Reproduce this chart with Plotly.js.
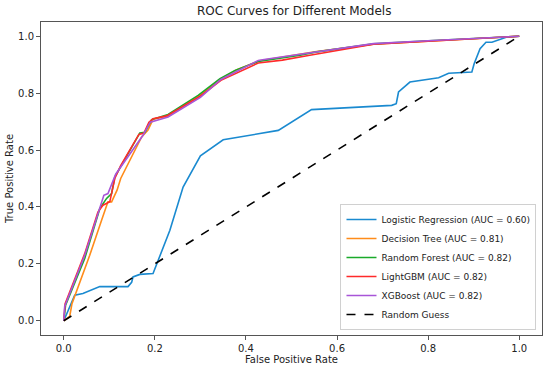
<!DOCTYPE html>
<html>
<head>
<meta charset="utf-8">
<script src="https://cdn.plot.ly/plotly-3.0.1.min.js"></script>
<style>html,body{margin:0;padding:0;background:#fff;}#chart{width:550px;height:370px;}</style>
</head>
<body>
<div id="chart"></div>
<script>
const fpr_lr = [0, 0.024, 0.042, 0.079, 0.141, 0.149, 0.152, 0.167, 0.196, 0.207, 0.233, 0.262, 0.30, 0.35, 0.471, 0.544, 0.72, 0.73, 0.735, 0.76, 0.823, 0.845, 0.896, 0.901, 0.914, 0.927, 0.94, 0.973, 1];
const tpr_lr = [0, 0.09, 0.096, 0.12, 0.12, 0.135, 0.154, 0.163, 0.166, 0.213, 0.318, 0.47, 0.58, 0.636, 0.669, 0.742, 0.757, 0.763, 0.804, 0.839, 0.854, 0.87, 0.874, 0.903, 0.956, 0.979, 0.979, 0.997, 1];

const fpr_dt = [0, 0.013, 0.018, 0.057, 0.083, 0.097, 0.105, 0.117, 0.125, 0.171, 0.185, 0.196, 0.23, 0.298, 0.345, 0.38, 0.43, 0.52, 0.555, 0.68, 0.81, 0.96, 1];
const tpr_dt = [0, 0.015, 0.06, 0.23, 0.353, 0.418, 0.418, 0.459, 0.5, 0.646, 0.67, 0.708, 0.72, 0.79, 0.85, 0.882, 0.914, 0.936, 0.946, 0.972, 0.983, 0.997, 1];

const fpr_rf = [0, 0.004, 0.046, 0.079, 0.094, 0.105, 0.112, 0.127, 0.167, 0.178, 0.193, 0.229, 0.295, 0.343, 0.376, 0.427, 0.519, 0.552, 0.68, 0.812, 0.958, 1];
const tpr_rf = [0, 0.055, 0.219, 0.394, 0.43, 0.447, 0.505, 0.546, 0.66, 0.662, 0.707, 0.725, 0.792, 0.851, 0.88, 0.911, 0.933, 0.944, 0.973, 0.985, 0.997, 1];

const fpr_lg = [0, 0.003, 0.046, 0.075, 0.086, 0.101, 0.112, 0.125, 0.165, 0.176, 0.187, 0.196, 0.226, 0.3, 0.345, 0.38, 0.427, 0.48, 0.522, 0.537, 0.68, 0.81, 0.96, 1];
const tpr_lg = [0, 0.06, 0.236, 0.382, 0.406, 0.418, 0.5, 0.545, 0.655, 0.66, 0.698, 0.71, 0.72, 0.79, 0.845, 0.872, 0.906, 0.916, 0.926, 0.932, 0.972, 0.984, 0.997, 1];

const fpr_xg = [0, 0.002, 0.046, 0.083, 0.088, 0.097, 0.105, 0.114, 0.174, 0.19, 0.229, 0.3, 0.345, 0.38, 0.427, 0.44, 0.52, 0.555, 0.68, 0.81, 0.96, 1];
const tpr_xg = [0, 0.05, 0.23, 0.418, 0.441, 0.447, 0.482, 0.515, 0.652, 0.698, 0.716, 0.785, 0.848, 0.876, 0.915, 0.918, 0.936, 0.946, 0.974, 0.985, 0.998, 1];

const guess_x = [0, 1];
const guess_y = [0, 1];

const names = ["Logistic Regression (AUC = 0.60)", "Decision Tree (AUC = 0.81)", "Random Forest (AUC = 0.82)", "LightGBM (AUC = 0.82)", "XGBoost (AUC = 0.82)", "Random Guess"];
const colors = ["#1a8ad0", "#ff8c1a", "#1aaa2a", "#ff2a2a", "#a855d8", "#000000"];
const xs = [fpr_lr, fpr_dt, fpr_rf, fpr_lg, fpr_xg, guess_x];
const ys = [tpr_lr, tpr_dt, tpr_rf, tpr_lg, tpr_xg, guess_y];

const traces = names.map((n, i) => ({
  x: xs[i], y: ys[i], name: n, type: 'scatter', mode: 'lines',
  line: {color: colors[i], width: 1.6, dash: i === 5 ? 'dash' : 'solid'}
}));

const font = {family: 'DejaVu Sans, sans-serif', color: '#222'};
const axisCommon = {
  showgrid: false, zeroline: false, showline: true, mirror: true,
  linecolor: '#555', linewidth: 1, ticks: 'outside', ticklen: 4, tickcolor: '#555',
  tickfont: {family: font.family, size: 10, color: '#222'}
};

const layout = {
  width: 550, height: 370,
  margin: {l: 41, r: 8, t: 21.5, b: 35},
  paper_bgcolor: '#fff', plot_bgcolor: '#fff',
  font: font,
  title: {text: 'ROC Curves for Different Models', font: {family: font.family, size: 12, color: '#222'}, x: 0.535, xanchor: 'center', y: 0.972, yanchor: 'middle'},
  xaxis: Object.assign({}, axisCommon, {range: [-0.05, 1.05], tickvals: [0, 0.2, 0.4, 0.6, 0.8, 1.0], ticktext: ['0.0','0.2','0.4','0.6','0.8','1.0'],
    title: {text: 'False Positive Rate', font: {family: font.family, size: 10, color: '#222'}, standoff: 2}}),
  yaxis: Object.assign({}, axisCommon, {range: [-0.05, 1.05], tickvals: [0, 0.2, 0.4, 0.6, 0.8, 1.0], ticktext: ['0.0','0.2','0.4','0.6','0.8','1.0'],
    title: {text: 'True Positive Rate', font: {family: font.family, size: 10, color: '#222'}, standoff: 2}}),
  showlegend: true,
  legend: {x: 0.989, y: 0.016, xanchor: 'right', yanchor: 'bottom', bgcolor: 'rgba(255,255,255,0.8)', bordercolor: '#d0d0d0', borderwidth: 1,
    font: {family: font.family, size: 9, color: '#222'}, tracegroupgap: 0, itemwidth: 30}
};

Plotly.newPlot('chart', traces, layout, {displayModeBar: false, staticPlot: true});
</script>
</body>
</html>
